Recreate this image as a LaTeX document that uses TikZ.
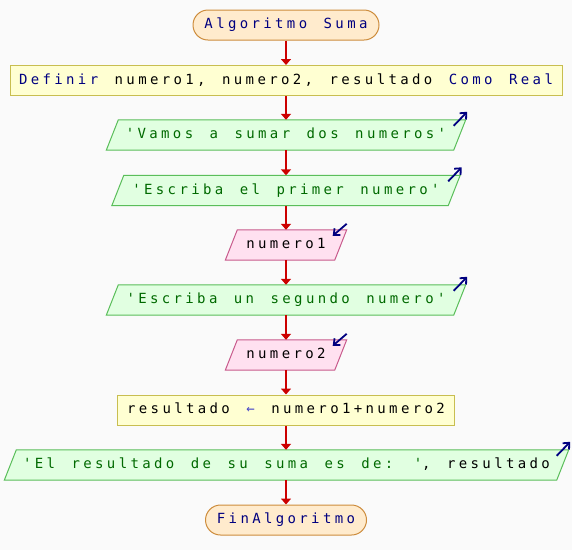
\documentclass[tikz,border=0pt]{standalone}
\usepackage{fontspec}
\newfontfamily\psfont[LetterSpace=24,WordSpace=1.40]{DejaVu Sans Mono}
\usetikzlibrary{calc,backgrounds,arrows.meta}
\definecolor{bgc}{RGB}{250,250,250}
\definecolor{termfill}{RGB}{255,235,205}
\definecolor{termdraw}{RGB}{205,140,60}
\definecolor{procfill}{RGB}{255,255,210}
\definecolor{procdraw}{RGB}{200,190,80}
\definecolor{outfill}{RGB}{225,255,225}
\definecolor{outdraw}{RGB}{90,190,90}
\definecolor{infill}{RGB}{255,225,240}
\definecolor{indraw}{RGB}{200,90,140}
\definecolor{kw}{RGB}{0,0,128}
\definecolor{strc}{RGB}{0,105,0}
\definecolor{flowc}{RGB}{204,0,0}
\definecolor{iconc}{RGB}{0,0,128}
\definecolor{arrc}{RGB}{70,70,200}
\tikzset{
  base/.style={font=\psfont\fontsize{14}{16}\selectfont, inner sep=0pt,
    minimum height=30, text height=10, text depth=3},
  terminal/.style={base, draw=termdraw, fill=termfill, line width=1,
    rounded corners=15, text=kw},
  process/.style={base, draw=procdraw, fill=procfill, line width=1},
  paratext/.style={base},
  flowarrow/.style={draw=flowc, line width=2.5, -{Triangle[width=10,length=6]}},
  iconarrow/.style={draw=iconc, line width=1.8, -{Straight Barb[width=9,length=5]}},
}
\newcommand\drawpara[3]{%
  \fill[#2, draw=#3, line width=1]
    ($(#1.south west)+(-6,0)$) -- ($(#1.north west)+(6,0)$) --
    ($(#1.north east)+(6,0)$) -- ($(#1.south east)+(-6,0)$) -- cycle;}
\newcommand\outicon[1]{%
  \draw[iconarrow] ($(#1.north east)+(-6,6)$) -- ($(#1.north east)+(7.5,-8)$);}
\newcommand\inicon[1]{%
  \draw[iconarrow] ($(#1.north east)+(6,-6)$) -- ($(#1.north east)+(-8,6)$);}
\begin{document}
\begin{tikzpicture}[x=1pt,y=-1pt]
\useasboundingbox (0,0) rectangle (572,550);
\node[terminal, minimum width=186] (start) at (286,25) {Algoritmo Suma};
\node[process, minimum width=552] (def) at (286,80.5)
  {\textcolor{kw}{Definir} numero1, numero2, resultado \textcolor{kw}{Como Real}};
\node[paratext, minimum width=347, text=strc] (p1) at (286,135) {'Vamos a sumar dos numeros'};
\node[paratext, minimum width=336, text=strc] (p2) at (286,190.5) {'Escriba el primer numero'};
\node[paratext, minimum width=109] (in1) at (286,245) {numero1};
\node[paratext, minimum width=347, text=strc] (p3) at (286,300) {'Escriba un segundo numero'};
\node[paratext, minimum width=109] (in2) at (286,355) {numero2};
\node[process, minimum width=337] (asg) at (286,410)
  {resultado \textcolor{arrc}{←} numero1+numero2};
\node[paratext, minimum width=552] (p4) at (286.5,465)
  {\textcolor{strc}{'El resultado de su suma es de: '}, resultado};
\node[terminal, minimum width=161] (fin) at (286,520) {FinAlgoritmo};
\begin{scope}[on background layer]
  \fill[bgc] (0,0) rectangle (572,550);
  \drawpara{p1}{outfill}{outdraw}
  \drawpara{p2}{outfill}{outdraw}
  \drawpara{in1}{infill}{indraw}
  \drawpara{p3}{outfill}{outdraw}
  \drawpara{in2}{infill}{indraw}
  \drawpara{p4}{outfill}{outdraw}
\end{scope}
\outicon{p1}
\outicon{p2}
\inicon{in1}
\outicon{p3}
\inicon{in2}
\outicon{p4}
\draw[flowarrow] (start.south) -- (start.south |- def.north);
\draw[flowarrow] (def.south) -- (def.south |- p1.north);
\draw[flowarrow] (p1.south) -- (p1.south |- p2.north);
\draw[flowarrow] (p2.south) -- (p2.south |- in1.north);
\draw[flowarrow] (in1.south) -- (in1.south |- p3.north);
\draw[flowarrow] (p3.south) -- (p3.south |- in2.north);
\draw[flowarrow] (in2.south) -- (in2.south |- asg.north);
\draw[flowarrow] (asg.south) -- (asg.south |- p4.north);
\draw[flowarrow] (p4.south -| asg.south) -- (asg.south |- fin.north);
\end{tikzpicture}
\end{document}
